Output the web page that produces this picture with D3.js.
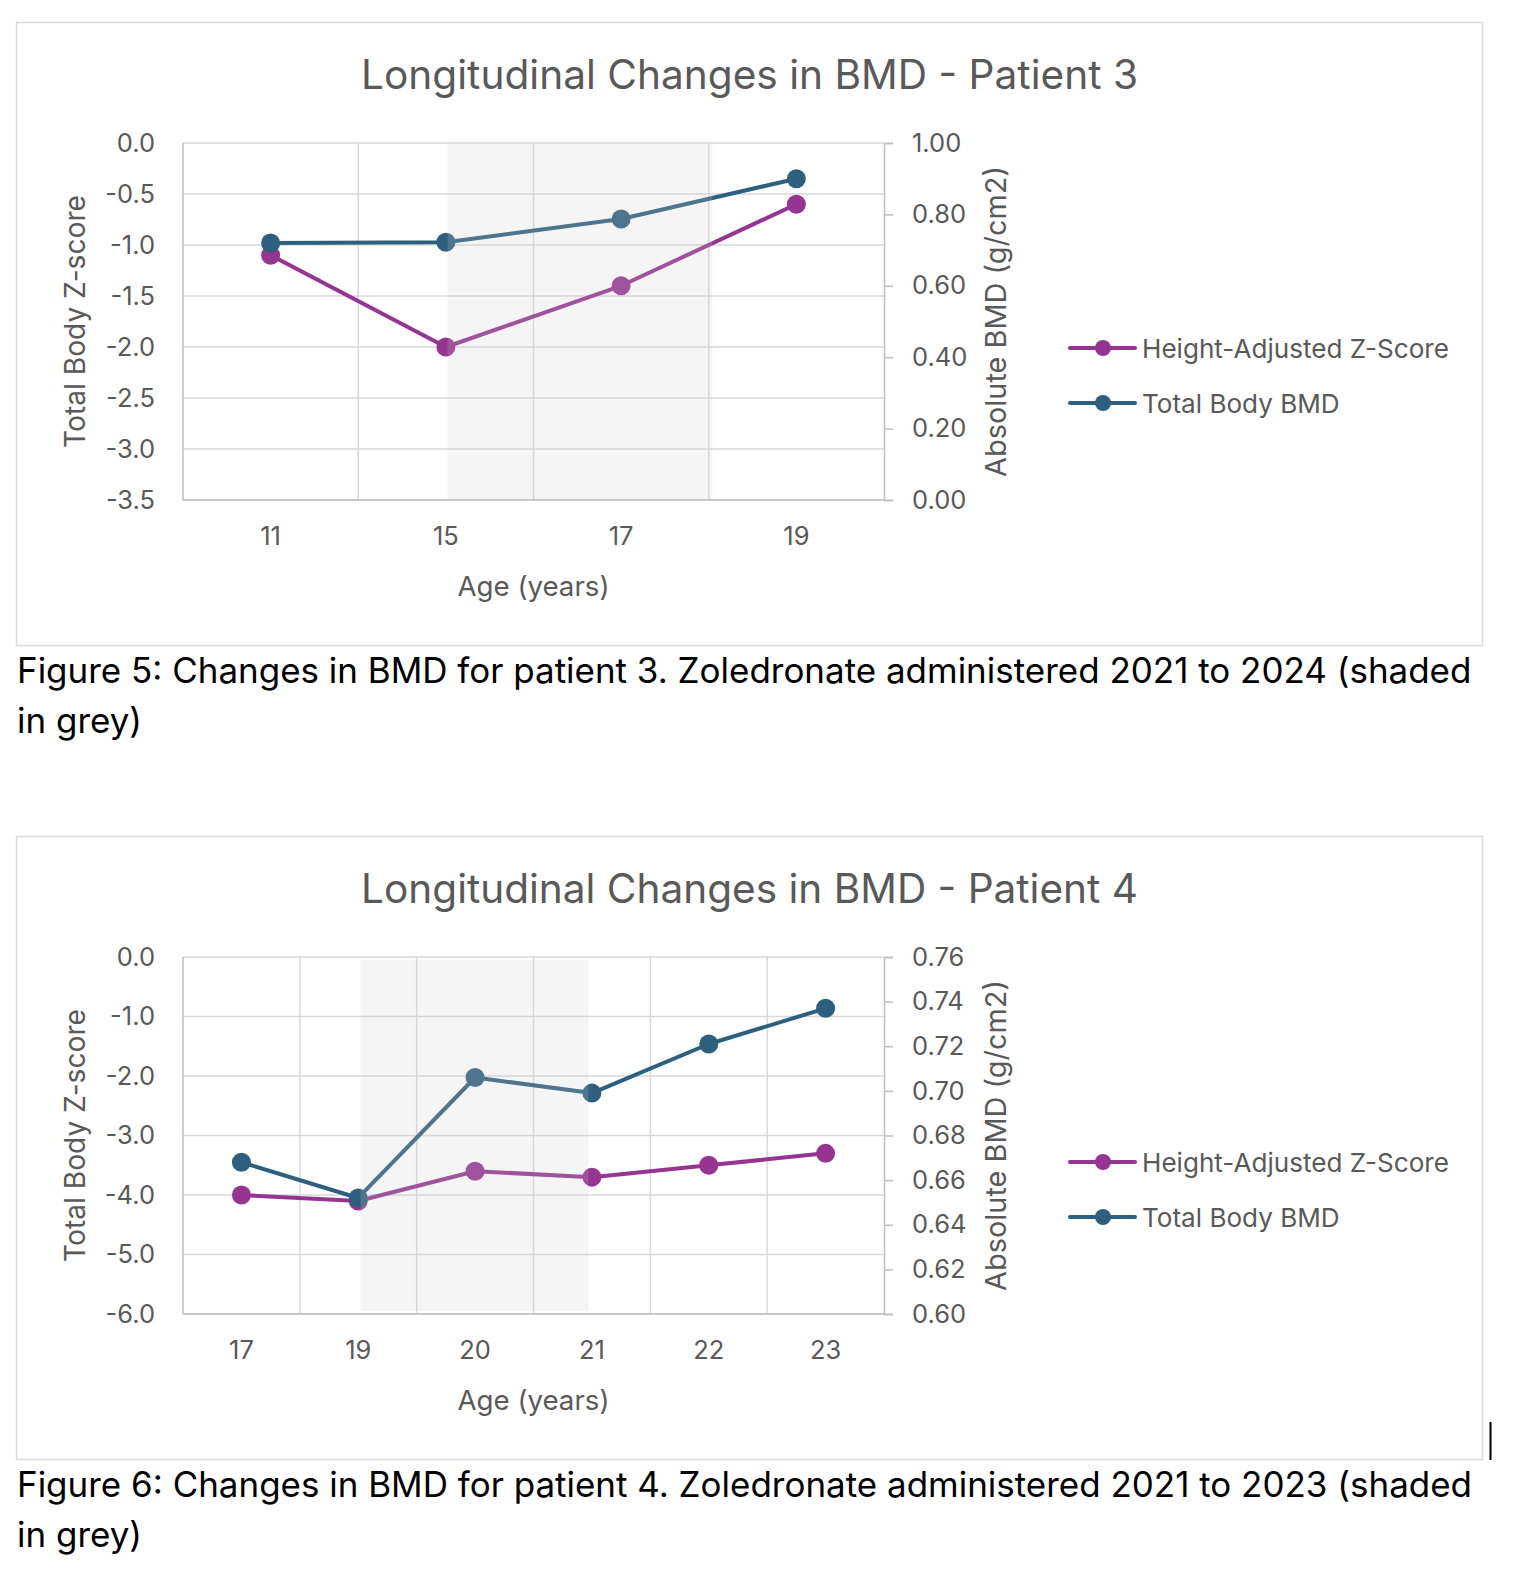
<!DOCTYPE html>
<html>
<head>
<meta charset="utf-8">
<script src="https://cdn.jsdelivr.net/npm/d3@7"></script>
<style>
  body { margin: 0; background: #fff; }
  svg { display: block; font-family: Inter, "Noto Sans", sans-serif; }
</style>
</head>
<body>
<div id="page"></div>
<script>
// ---- Patient 3 ----
const p3Ages = ["11", "15", "17", "19"];
const p3ZScore = [-1.1, -2.0, -1.4, -0.6];
const p3Bmd = [0.72, 0.722, 0.787, 0.90];
const p3ZTicks = [0.0, -0.5, -1.0, -1.5, -2.0, -2.5, -3.0, -3.5];
const p3BmdTicks = [0.00, 0.20, 0.40, 0.60, 0.80, 1.00];
const p3Shade = [1.51, 3.02];        // in band units along the age axis
const p3ShadeZ = [0, -3.5];
const p3Title = "Longitudinal Changes in BMD - Patient 3";
const p3Caption = ["Figure 5: Changes in BMD for patient 3. Zoledronate administered 2021 to 2024 (shaded", "in grey)"];

// ---- Patient 4 ----
const p4Ages = ["17", "19", "20", "21", "22", "23"];
const p4ZScore = [-4.0, -4.1, -3.6, -3.7, -3.5, -3.3];
const p4Bmd = [0.668, 0.652, 0.706, 0.699, 0.721, 0.737];
const p4ZTicks = [0.0, -1.0, -2.0, -3.0, -4.0, -5.0, -6.0];
const p4BmdTicks = [0.60, 0.62, 0.64, 0.66, 0.68, 0.70, 0.72, 0.74, 0.76];
const p4Shade = [1.52, 3.47];
const p4ShadeZ = [-0.05, -5.95];
const p4Title = "Longitudinal Changes in BMD - Patient 4";
const p4Caption = ["Figure 6: Changes in BMD for patient 4. Zoledronate administered 2021 to 2023 (shaded", "in grey)"];

const seriesNames = ["Height-Adjusted Z-Score", "Total Body BMD"];
const seriesColors = ["#953591", "#2d5f7f"];

const W = 1538, H = 1582;
const textGrey = "#595959";
const gridGrey = "#d9d9d9";
const axisGrey = "#bfbfbf";
const tickSize = 25.5;

const svg = d3.select("#page").append("svg")
    .attr("width", W)
    .attr("height", H);

// shrink/grow a text element's font size so it spans the given width
function fitText(sel, target) {
    const node = sel.node();
    const size = parseFloat(sel.attr("font-size"));
    const w = node.getComputedTextLength();
    if (w > 0) sel.attr("font-size", (size * target / w).toFixed(2));
    return sel;
}

function drawChart(cfg, oy) {
    const g = svg.append("g").attr("transform", `translate(0,${oy})`);
    const left = 183, right = 884, top = 143, bottom = 500;

    // chart frame
    g.append("rect")
        .attr("x", 16.5).attr("y", 22.5)
        .attr("width", 1466).attr("height", 623)
        .attr("fill", "#fff")
        .attr("stroke", gridGrey)
        .attr("stroke-width", 1.5);

    fitText(g.append("text")
        .attr("x", 749.5).attr("y", 74)
        .attr("text-anchor", "middle")
        .attr("dominant-baseline", "central")
        .attr("fill", textGrey)
        .attr("font-size", 37)
        .text(cfg.title), 777);

    const x = d3.scaleBand().domain(cfg.ages).range([left, right]);
    const xu = d3.scaleLinear().domain([0, cfg.ages.length]).range([left, right]);
    const yL = d3.scaleLinear().domain(d3.extent(cfg.zTicks)).range([bottom, top]);
    const yR = d3.scaleLinear().domain(d3.extent(cfg.bmdTicks)).range([bottom, top]);
    const cx = d => x(d) + x.bandwidth() / 2;

    // gridlines
    g.append("g").selectAll("line")
        .data(cfg.zTicks)
        .join("line")
        .attr("x1", left).attr("x2", right)
        .attr("y1", d => yL(d)).attr("y2", d => yL(d))
        .attr("stroke", gridGrey).attr("stroke-width", 1.5);
    g.append("g").selectAll("line")
        .data(d3.range(1, cfg.ages.length))
        .join("line")
        .attr("x1", d => xu(d)).attr("x2", d => xu(d))
        .attr("y1", top).attr("y2", bottom)
        .attr("stroke", gridGrey).attr("stroke-width", 1.5);

    // axes lines
    g.append("line").attr("x1", left).attr("x2", left).attr("y1", top).attr("y2", bottom)
        .attr("stroke", axisGrey).attr("stroke-width", 1.5);
    g.append("line").attr("x1", left).attr("x2", right).attr("y1", bottom).attr("y2", bottom)
        .attr("stroke", axisGrey).attr("stroke-width", 1.5);

    const rightAxis = g.append("g")
        .attr("transform", `translate(${right},0)`)
        .call(d3.axisRight(yR).tickValues(cfg.bmdTicks).tickSize(9).tickPadding(19)
            .tickFormat(d3.format(".2f")));
    rightAxis.select(".domain").attr("stroke", axisGrey).attr("stroke-width", 1.5);
    rightAxis.selectAll(".tick line").attr("stroke", axisGrey).attr("stroke-width", 1.5);
    rightAxis.selectAll("text")
        .attr("fill", textGrey).attr("font-size", tickSize).attr("font-family", "Inter");

    const leftAxis = g.append("g")
        .attr("transform", `translate(${left},0)`)
        .call(d3.axisLeft(yL).tickValues(cfg.zTicks).tickSize(0).tickPadding(28)
            .tickFormat(d3.format(".1f")));
    leftAxis.select(".domain").remove();
    leftAxis.selectAll("text")
        .attr("fill", textGrey).attr("font-size", tickSize).attr("font-family", "Inter")
        .text(d => d3.format(".1f")(d).replace("\u2212", "-"));

    const bottomAxis = g.append("g")
        .attr("transform", `translate(0,${bottom})`)
        .call(d3.axisBottom(x).tickSize(0).tickPadding(27));
    bottomAxis.select(".domain").remove();
    bottomAxis.selectAll("text")
        .attr("fill", textGrey).attr("font-size", tickSize).attr("font-family", "Inter");

    // axis titles
    fitText(g.append("text")
        .attr("transform", `translate(75,${(top + bottom) / 2}) rotate(-90)`)
        .attr("text-anchor", "middle").attr("dominant-baseline", "central")
        .attr("fill", textGrey).attr("font-size", 25)
        .text("Total Body Z-score"), 253);
    fitText(g.append("text")
        .attr("transform", `translate(995,${(top + bottom) / 2}) rotate(-90)`)
        .attr("text-anchor", "middle").attr("dominant-baseline", "central")
        .attr("fill", textGrey).attr("font-size", 25)
        .text("Absolute BMD (g/cm2)"), 311);
    fitText(g.append("text")
        .attr("x", (left + right) / 2).attr("y", 586)
        .attr("text-anchor", "middle").attr("dominant-baseline", "central")
        .attr("fill", textGrey).attr("font-size", 25)
        .text("Age (years)"), 152);

    // series: z-score on left axis, BMD on right axis
    const series = [
        { values: cfg.z, y: yL, color: seriesColors[0] },
        { values: cfg.bmd, y: yR, color: seriesColors[1] }
    ];
    series.forEach(s => {
        const pts = cfg.ages.map((a, i) => [cx(a), s.y(s.values[i])]);
        g.append("path")
            .attr("d", d3.line()(pts))
            .attr("fill", "none")
            .attr("stroke", s.color)
            .attr("stroke-width", 4)
            .attr("stroke-linejoin", "round")
            .attr("stroke-linecap", "round");
        g.append("g").selectAll("circle")
            .data(pts)
            .join("circle")
            .attr("cx", d => d[0]).attr("cy", d => d[1])
            .attr("r", 9.5)
            .attr("fill", s.color);
    });

    // treatment period shading (drawn over the lines like the original)
    g.append("rect")
        .attr("x", xu(cfg.shade[0]))
        .attr("width", xu(cfg.shade[1]) - xu(cfg.shade[0]))
        .attr("y", yL(cfg.shadeZ[0]))
        .attr("height", yL(cfg.shadeZ[1]) - yL(cfg.shadeZ[0]))
        .attr("fill", "rgb(204,204,204)")
        .attr("fill-opacity", 0.2);

    // legend
    const legend = g.append("g");
    seriesNames.forEach((name, i) => {
        const ly = 348 + i * 55;
        legend.append("line")
            .attr("x1", 1070).attr("x2", 1135).attr("y1", ly).attr("y2", ly)
            .attr("stroke", seriesColors[i]).attr("stroke-width", 4)
            .attr("stroke-linecap", "round");
        legend.append("circle")
            .attr("cx", 1103).attr("cy", ly).attr("r", 8)
            .attr("fill", seriesColors[i]);
        const t = legend.append("text")
            .attr("x", 1142).attr("y", ly)
            .attr("dominant-baseline", "central")
            .attr("fill", textGrey).attr("font-size", 25)
            .text(name);
        if (i === 0) fitText(t, 307);
    });
    const legendSize = legend.select("text").attr("font-size");
    legend.selectAll("text").attr("font-size", legendSize);

    // figure caption below the chart frame
    const cap1 = fitText(g.append("text")
        .attr("x", 17).attr("y", 670)
        .attr("dominant-baseline", "central")
        .attr("fill", "#000").attr("font-size", 32)
        .text(cfg.caption[0]), 1455);
    g.append("text")
        .attr("x", 17).attr("y", 720)
        .attr("dominant-baseline", "central")
        .attr("fill", "#000").attr("font-size", cap1.attr("font-size"))
        .text(cfg.caption[1]);
}

drawChart({
    title: p3Title, ages: p3Ages, z: p3ZScore, bmd: p3Bmd,
    zTicks: p3ZTicks, bmdTicks: p3BmdTicks,
    shade: p3Shade, shadeZ: p3ShadeZ, caption: p3Caption
}, 0);

drawChart({
    title: p4Title, ages: p4Ages, z: p4ZScore, bmd: p4Bmd,
    zTicks: p4ZTicks, bmdTicks: p4BmdTicks,
    shade: p4Shade, shadeZ: p4ShadeZ, caption: p4Caption
}, 814);

// text cursor left in the document beside the second chart
svg.append("line")
    .attr("x1", 1490.5).attr("x2", 1490.5)
    .attr("y1", 1422).attr("y2", 1460)
    .attr("stroke", "#000").attr("stroke-width", 2);
</script>
</body>
</html>
